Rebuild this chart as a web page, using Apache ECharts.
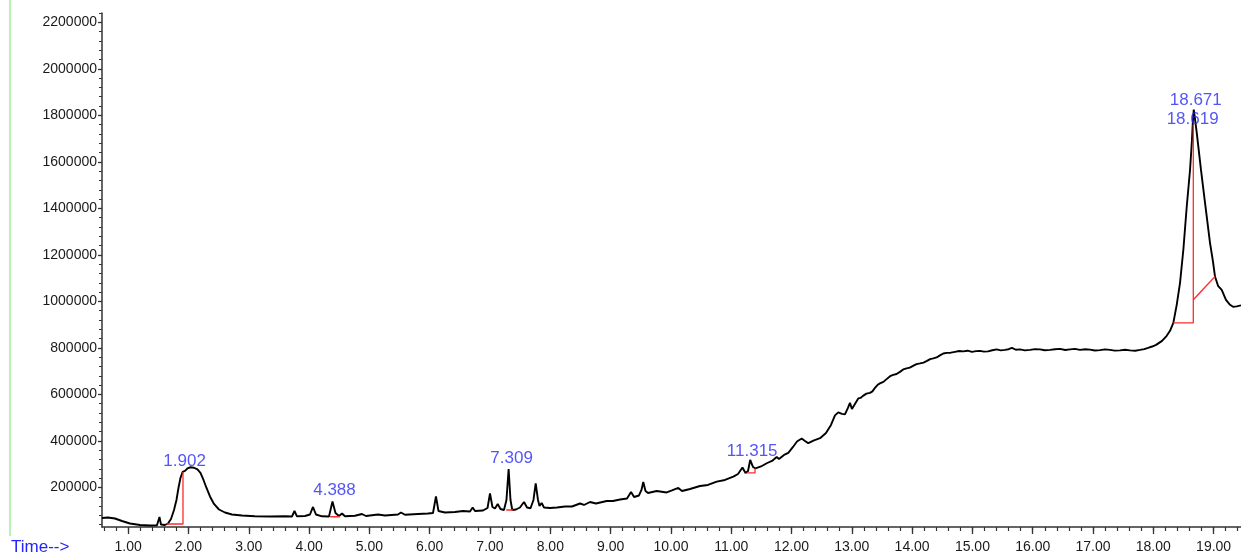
<!DOCTYPE html>
<html>
<head>
<meta charset="utf-8">
<script src="https://cdn.jsdelivr.net/npm/echarts@6/dist/echarts.min.js"></script>
<style>
  html, body { margin: 0; padding: 0; background: #ffffff; }
  #chart { width: 1241px; height: 554px; }
</style>
</head>
<body>
<div id="chart"></div>
<script>
// Total ion chromatogram: [retention time (min), abundance]
const ticTrace = [
  [0.566, 68700], [0.665, 70900], [0.781, 66600], [0.897, 55800], [1.030, 45100],
  [1.196, 38600], [1.362, 36500], [1.478, 37300], [1.519, 73000], [1.544, 40800],
  [1.610, 38600], [1.660, 45100], [1.710, 64400], [1.760, 103100], [1.801, 146200],
  [1.834, 197800], [1.867, 240800], [1.902, 266700], [1.942, 271000], [1.983, 281700],
  [2.033, 286900], [2.091, 284700], [2.149, 277400], [2.199, 262400], [2.249, 232200],
  [2.299, 197800], [2.357, 161200], [2.423, 129000], [2.506, 105300], [2.605, 92400],
  [2.721, 83800], [2.887, 79500], [3.103, 76000], [3.352, 75200], [3.600, 76500],
  [3.716, 75200], [3.758, 98800], [3.799, 76000], [3.932, 77300], [4.015, 83800],
  [4.065, 116100], [4.114, 83800], [4.214, 76000], [4.330, 75200], [4.388, 139700],
  [4.438, 90200], [4.496, 77300], [4.546, 88100], [4.595, 76000], [4.761, 78200],
  [4.877, 85900], [4.943, 77300], [5.143, 83800], [5.259, 79500], [5.474, 83800],
  [5.524, 92400], [5.590, 82500], [5.806, 85900], [5.972, 88100], [6.055, 90200],
  [6.104, 161200], [6.146, 98800], [6.253, 92400], [6.419, 94500], [6.552, 98800],
  [6.668, 96700], [6.713, 113900], [6.751, 98800], [6.884, 101000], [6.959, 111800],
  [7.000, 174100], [7.041, 116100], [7.083, 109600], [7.128, 129000], [7.174, 107500],
  [7.232, 103100], [7.273, 146200], [7.309, 279600], [7.340, 146200], [7.370, 103100],
  [7.431, 105300], [7.497, 113900], [7.564, 137600], [7.614, 113900], [7.672, 110500],
  [7.721, 146200], [7.758, 217200], [7.796, 146200], [7.821, 120400], [7.857, 133300],
  [7.896, 113900], [7.995, 111800], [8.111, 113900], [8.244, 118200], [8.360, 118200],
  [8.493, 131100], [8.559, 124700], [8.658, 137600], [8.758, 131100], [8.935, 141900],
  [9.040, 141900], [9.156, 148300], [9.272, 152600], [9.339, 180600], [9.389, 159100],
  [9.471, 165500], [9.512, 189200], [9.542, 223600], [9.579, 184900], [9.620, 176300],
  [9.764, 184900], [9.930, 178500], [10.018, 187100], [10.123, 197800], [10.184, 184900],
  [10.317, 193500], [10.483, 206400], [10.615, 210700], [10.760, 224900], [10.897, 232200],
  [11.035, 246400], [11.113, 258100], [11.187, 286000], [11.237, 262400], [11.279, 271000],
  [11.315, 318300], [11.361, 288200], [11.403, 281700], [11.494, 290300], [11.589, 304100],
  [11.677, 314000], [11.754, 331200], [11.793, 322600], [11.876, 339800], [11.947, 348400],
  [12.025, 374200], [12.091, 397900], [12.169, 410800], [12.224, 400100], [12.278, 390200],
  [12.373, 402200], [12.473, 411700], [12.572, 434500], [12.655, 468900], [12.721, 509800],
  [12.776, 522700], [12.837, 516200], [12.886, 514100], [12.936, 542100], [12.969, 563600],
  [13.002, 537800], [13.052, 559300], [13.107, 582900], [13.145, 585000], [13.185, 593700],
  [13.243, 603500], [13.301, 606600], [13.342, 613000], [13.384, 628100], [13.425, 640500],
  [13.466, 647500], [13.524, 654000], [13.582, 666800], [13.635, 678500], [13.687, 684100],
  [13.742, 688000], [13.798, 697000], [13.853, 707500], [13.909, 712000], [13.962, 715000],
  [14.015, 722800], [14.073, 730500], [14.131, 733500], [14.189, 737000], [14.247, 744300],
  [14.299, 752000], [14.351, 755100], [14.406, 759000], [14.462, 768000], [14.517, 776000],
  [14.573, 778700], [14.642, 779500], [14.711, 783000], [14.780, 786500], [14.849, 785200],
  [14.920, 788000], [14.993, 783000], [15.060, 786000], [15.126, 787300], [15.190, 784000],
  [15.259, 785200], [15.330, 790000], [15.403, 793800], [15.470, 789500], [15.541, 791600],
  [15.600, 794500], [15.657, 800200], [15.720, 792000], [15.789, 793800], [15.870, 789500],
  [15.955, 791600], [16.040, 795000], [16.121, 793800], [16.200, 790000], [16.287, 791600],
  [16.370, 794500], [16.453, 795900], [16.540, 791000], [16.619, 793800], [16.700, 796000],
  [16.785, 791600], [16.870, 794000], [16.951, 792500], [17.030, 789000], [17.116, 790300],
  [17.200, 793500], [17.282, 791600], [17.360, 788500], [17.448, 789500], [17.530, 792000],
  [17.614, 789500], [17.700, 788000], [17.780, 791600], [17.850, 795000], [17.913, 800200],
  [17.980, 806000], [18.046, 813100], [18.145, 830400], [18.222, 851900], [18.277, 873400],
  [18.332, 907800], [18.388, 985300], [18.443, 1080000], [18.498, 1222000], [18.554, 1407000],
  [18.609, 1566200], [18.640, 1690000], [18.656, 1775000], [18.671, 1824400], [18.720, 1725400],
  [18.790, 1566200], [18.857, 1424200], [18.940, 1252000], [18.990, 1170100], [19.023, 1107000],
  [19.073, 1067000], [19.134, 1049800], [19.205, 1006800], [19.272, 985300], [19.322, 976700],
  [19.383, 978800], [19.454, 983100]
];

// Integrated peak retention times (labelled)
const peakTimes = [1.902, 4.388, 7.309, 11.315, 18.671, 18.619];

// Integration baselines drawn under each labelled peak: [time, abundance]
const baseline1 = [[1.638, 42900], [1.909, 42900], [1.909, 266000]];
const baseline2 = [[4.35, 74000], [4.51, 74000]];
const baseline3 = [[7.27, 103000], [7.38, 103000]];
const baseline4 = [[11.26, 262400], [11.395, 262400], [11.395, 281000]];
const baseline5 = [[18.332, 907800], [18.663, 907800], [18.663, 1760000]];
const baseline6 = [[18.663, 1006800], [19.023, 1107000]];

// Axis ranges and tick values
const timeRange = [0.566, 19.454];
const abundanceRange = [30000, 2240000];
const timeLabels = [1, 2, 3, 4, 5, 6, 7, 8, 9, 10, 11, 12, 13, 14, 15, 16, 17, 18, 19];
const abundanceLabels = [200000, 400000, 600000, 800000, 1000000, 1200000,
  1400000, 1600000, 1800000, 2000000, 2200000];

const timeMinor = [];
for (let i = 3; i <= 97; i++) timeMinor.push(+(i * 0.2).toFixed(1));
const abundanceMinor = [];
for (let i = 1; i <= 56; i++) abundanceMinor.push(i * 40000);

// Abundance on the trace at a given time (linear between samples)
function traceAt(t) {
  for (let i = 1; i < ticTrace.length; i++) {
    const a = ticTrace[i - 1], b = ticTrace[i];
    if (t >= a[0] && t <= b[0]) {
      const f = (t - a[0]) / (b[0] - a[0]);
      return a[1] + f * (b[1] - a[1]);
    }
  }
  return ticTrace[ticTrace.length - 1][1];
}

// Pixel nudges for the retention-time labels
const labelNudge = {
  '1.902': [2, -11], '4.388': [2, -11], '7.309': [3, -11],
  '11.315': [2, -9], '18.671': [2, -9], '18.619': [2, -41]
};

const FONT = 'Liberation Sans, Arial, Helvetica, sans-serif';
const AXIS_COLOR = '#333333';
const RED = '#ff2a2a';

function baselineSeries(data) {
  return {
    type: 'line', data: data, symbol: 'none', silent: true, z: 3,
    lineStyle: { color: RED, width: 1.3 }, animation: false
  };
}

const chart = echarts.init(document.getElementById('chart'), null, { renderer: 'canvas' });

chart.setOption({
  animation: false,
  backgroundColor: '#ffffff',
  title: {
    text: 'Time-->', left: 11, top: 539, padding: 0,
    textStyle: { color: '#2424ff', fontSize: 17, fontWeight: 'normal', fontFamily: FONT }
  },
  graphic: [{
    type: 'line', shape: { x1: 10, y1: 0, x2: 10, y2: 536 },
    style: { stroke: '#b9f3b9', lineWidth: 2 }, silent: true
  }],
  grid: { left: 102, right: 0, top: 13, bottom: 27, containLabel: false },
  xAxis: [{
    type: 'value', position: 'bottom', min: timeRange[0], max: timeRange[1],
    axisLine: { show: true, lineStyle: { color: AXIS_COLOR, width: 1.5 } },
    axisTick: { show: true, customValues: timeLabels, length: 7, inside: false,
      lineStyle: { color: AXIS_COLOR, width: 1.3 } },
    axisLabel: { show: true, customValues: timeLabels, margin: 13, fontSize: 14,
      color: '#1a1a1a', fontFamily: FONT, formatter: v => v.toFixed(2) },
    splitLine: { show: false }
  }, {
    type: 'value', position: 'bottom', min: timeRange[0], max: timeRange[1],
    axisLine: { show: false },
    axisTick: { show: true, customValues: timeMinor, length: 4, inside: false,
      lineStyle: { color: AXIS_COLOR, width: 1.2 } },
    axisLabel: { show: false },
    splitLine: { show: false }
  }],
  yAxis: [{
    type: 'value', position: 'left', min: abundanceRange[0], max: abundanceRange[1],
    axisLine: { show: true, lineStyle: { color: AXIS_COLOR, width: 1.5 } },
    axisTick: { show: true, customValues: abundanceLabels, length: 4,
      lineStyle: { color: AXIS_COLOR, width: 1.3 } },
    axisLabel: { show: true, customValues: abundanceLabels, margin: 5, fontSize: 14,
      color: '#1a1a1a', fontFamily: FONT, formatter: v => String(v) },
    splitLine: { show: false }
  }, {
    type: 'value', position: 'left', min: abundanceRange[0], max: abundanceRange[1],
    axisLine: { show: false },
    axisTick: { show: true, customValues: abundanceMinor, length: 3,
      lineStyle: { color: AXIS_COLOR, width: 1 } },
    axisLabel: { show: false },
    splitLine: { show: false }
  }],
  series: [
    {
      name: 'TIC', type: 'line', data: ticTrace, symbol: 'none', z: 2,
      lineStyle: { color: '#000000', width: 1.9 }, silent: true
    },
    baselineSeries(baseline1),
    baselineSeries(baseline2),
    baselineSeries(baseline3),
    baselineSeries(baseline4),
    baselineSeries(baseline5),
    baselineSeries(baseline6),
    {
      name: 'Peaks', type: 'scatter', symbolSize: 0, z: 5, silent: true,
      data: peakTimes.map(t => {
        const key = t.toFixed(3);
        return {
          value: [t, traceAt(t)],
          label: { offset: labelNudge[key] }
        };
      }),
      label: {
        show: true, position: 'inside', fontSize: 17, color: '#2a2af5',
        fontFamily: FONT, formatter: p => p.value[0].toFixed(3)
      }
    }
  ]
});
</script>
</body>
</html>
